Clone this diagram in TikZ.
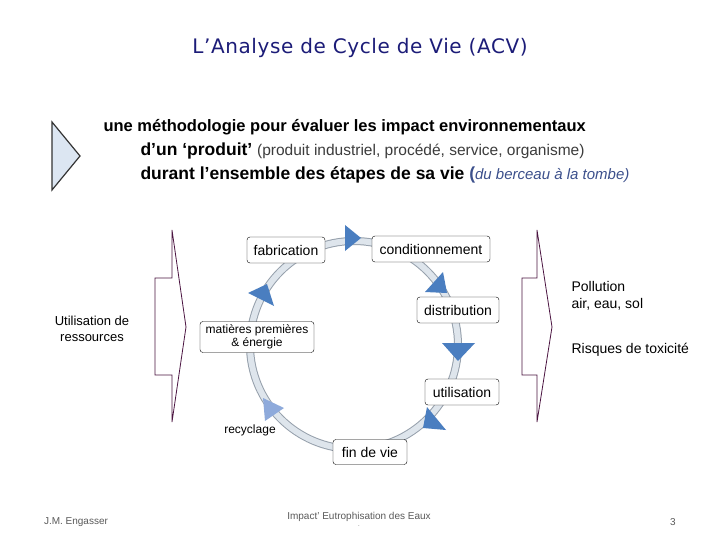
\documentclass[tikz,border=0pt]{standalone}
\usepackage{fontspec}
\setmainfont{Liberation Sans}
\newfontfamily\titlefont[LetterSpace=3]{DejaVu Sans}
\usepackage{tikz}
\usetikzlibrary{positioning}
\definecolor{titleblue}{RGB}{28,28,120}
\definecolor{ringfill}{RGB}{222,229,236}
\definecolor{ringedge}{RGB}{150,160,172}
\definecolor{headblue}{RGB}{74,126,192}
\definecolor{headlight}{RGB}{142,170,219}
\definecolor{framepurple}{RGB}{75,20,65}
\definecolor{trifill}{RGB}{220,230,242}
\definecolor{notegray}{RGB}{60,60,60}
\definecolor{italblue}{RGB}{60,80,140}
\definecolor{footgray}{RGB}{90,90,90}
\begin{document}
\begin{tikzpicture}[x=1pt,y=-1pt,stage/.style={draw,rounded corners=3pt,fill=white,align=center,font=\fontsize{14}{16}\selectfont,minimum height=26pt,inner xsep=3pt},head/.style={fill=headblue},side/.style={draw=framepurple,line width=0.8pt},note/.style={align=left,anchor=west,font=\fontsize{14}{17}\selectfont},foot/.style={text=footgray,font=\fontsize{10}{12}\selectfont}]
\useasboundingbox[fill=white](0,0) rectangle (720,540);
% title and definition
\node[font=\titlefont\fontsize{20}{24}\selectfont,text=titleblue](title) at (360,48){L’Analyse de Cycle de Vie (ACV)};
\filldraw[fill=trifill,draw=black!80,line width=1.2pt](52,122)--(80,156)--(52,190)--cycle;
\node[anchor=west,font=\bfseries\fontsize{16.5}{20}\selectfont](l1) at (100,127){une méthodologie pour évaluer les impact environnementaux};
\node[anchor=west,font=\bfseries\fontsize{17.5}{20}\selectfont](l2) at (137,151){d’un ‘produit’ {\mdseries\fontsize{15.5}{17}\selectfont\color{notegray}(produit industriel, procédé, service, organisme)}};
\node[anchor=west,font=\bfseries\fontsize{17.5}{20}\selectfont](l3) at (137,175){durant l’ensemble des étapes de sa vie {\color{italblue}(\mdseries\fontsize{15}{17}\selectfont\itshape du berceau à la tombe)}};
% the cycle
\coordinate(c) at (354,345); \draw[ringedge,line width=8pt](c) circle[radius=104]; \draw[ringfill,line width=6pt](c) circle[radius=104];
\fill[headlight](263,398)--(284,408)--(265,421)--cycle; \fill[head](248,293)--(267,284)--(274,306)--cycle;
\fill[head](345,225)--(361,238)--(345,251)--cycle; \fill[head](425,292)--(443,272)--(447,293)--cycle;
\fill[head](442,343)--(475,343)--(458,361)--cycle; \fill[head](427,407)--(446,430)--(423,428)--cycle;
\node[stage,minimum width=78pt](fab) at (286,250){fabrication}; \node[stage,minimum width=118pt](cond) at (431,249){conditionnement};
\node[stage,minimum width=82pt](dist) at (458,310){distribution}; \node[stage,minimum width=74pt](util) at (462,392){utilisation};
\node[stage,minimum width=114pt,minimum height=31pt,font=\fontsize{12}{13}\selectfont](mat) at (257,337){matières premières\\\& énergie};
\node[stage,minimum width=74pt,minimum height=25pt](fin) at (370,452){fin de vie}; \node[font=\fontsize{12}{14}\selectfont](rec) at (250,430){recyclage};
% inputs and outputs
\draw[side](172,230)--(172,278)--(155,278)--(155,375)--(172,375)--(172,422)--(186,327)--cycle;
\draw[side](537,230)--(537,278)--(522,278)--(522,375)--(537,375)--(537,422)--(552,327)--cycle;
\node[align=center,font=\fontsize{13}{16}\selectfont](res) at (92,329){Utilisation de\\ressources};
\node[note](poll) at (568,296){Pollution\\air, eau, sol}; \node[note](risk) at (568,350){Risques de toxicité};
% footer
\node[foot](auth) at (76,522){J.M. Engasser}; \node[foot](ref) at (359,517){Impact’ Eutrophisation des Eaux}; \node[foot,font=\fontsize{6}{6}\selectfont](dot) at (359,526){.}; \node[foot](num) at (673,522){3};
\end{tikzpicture}
\end{document}
